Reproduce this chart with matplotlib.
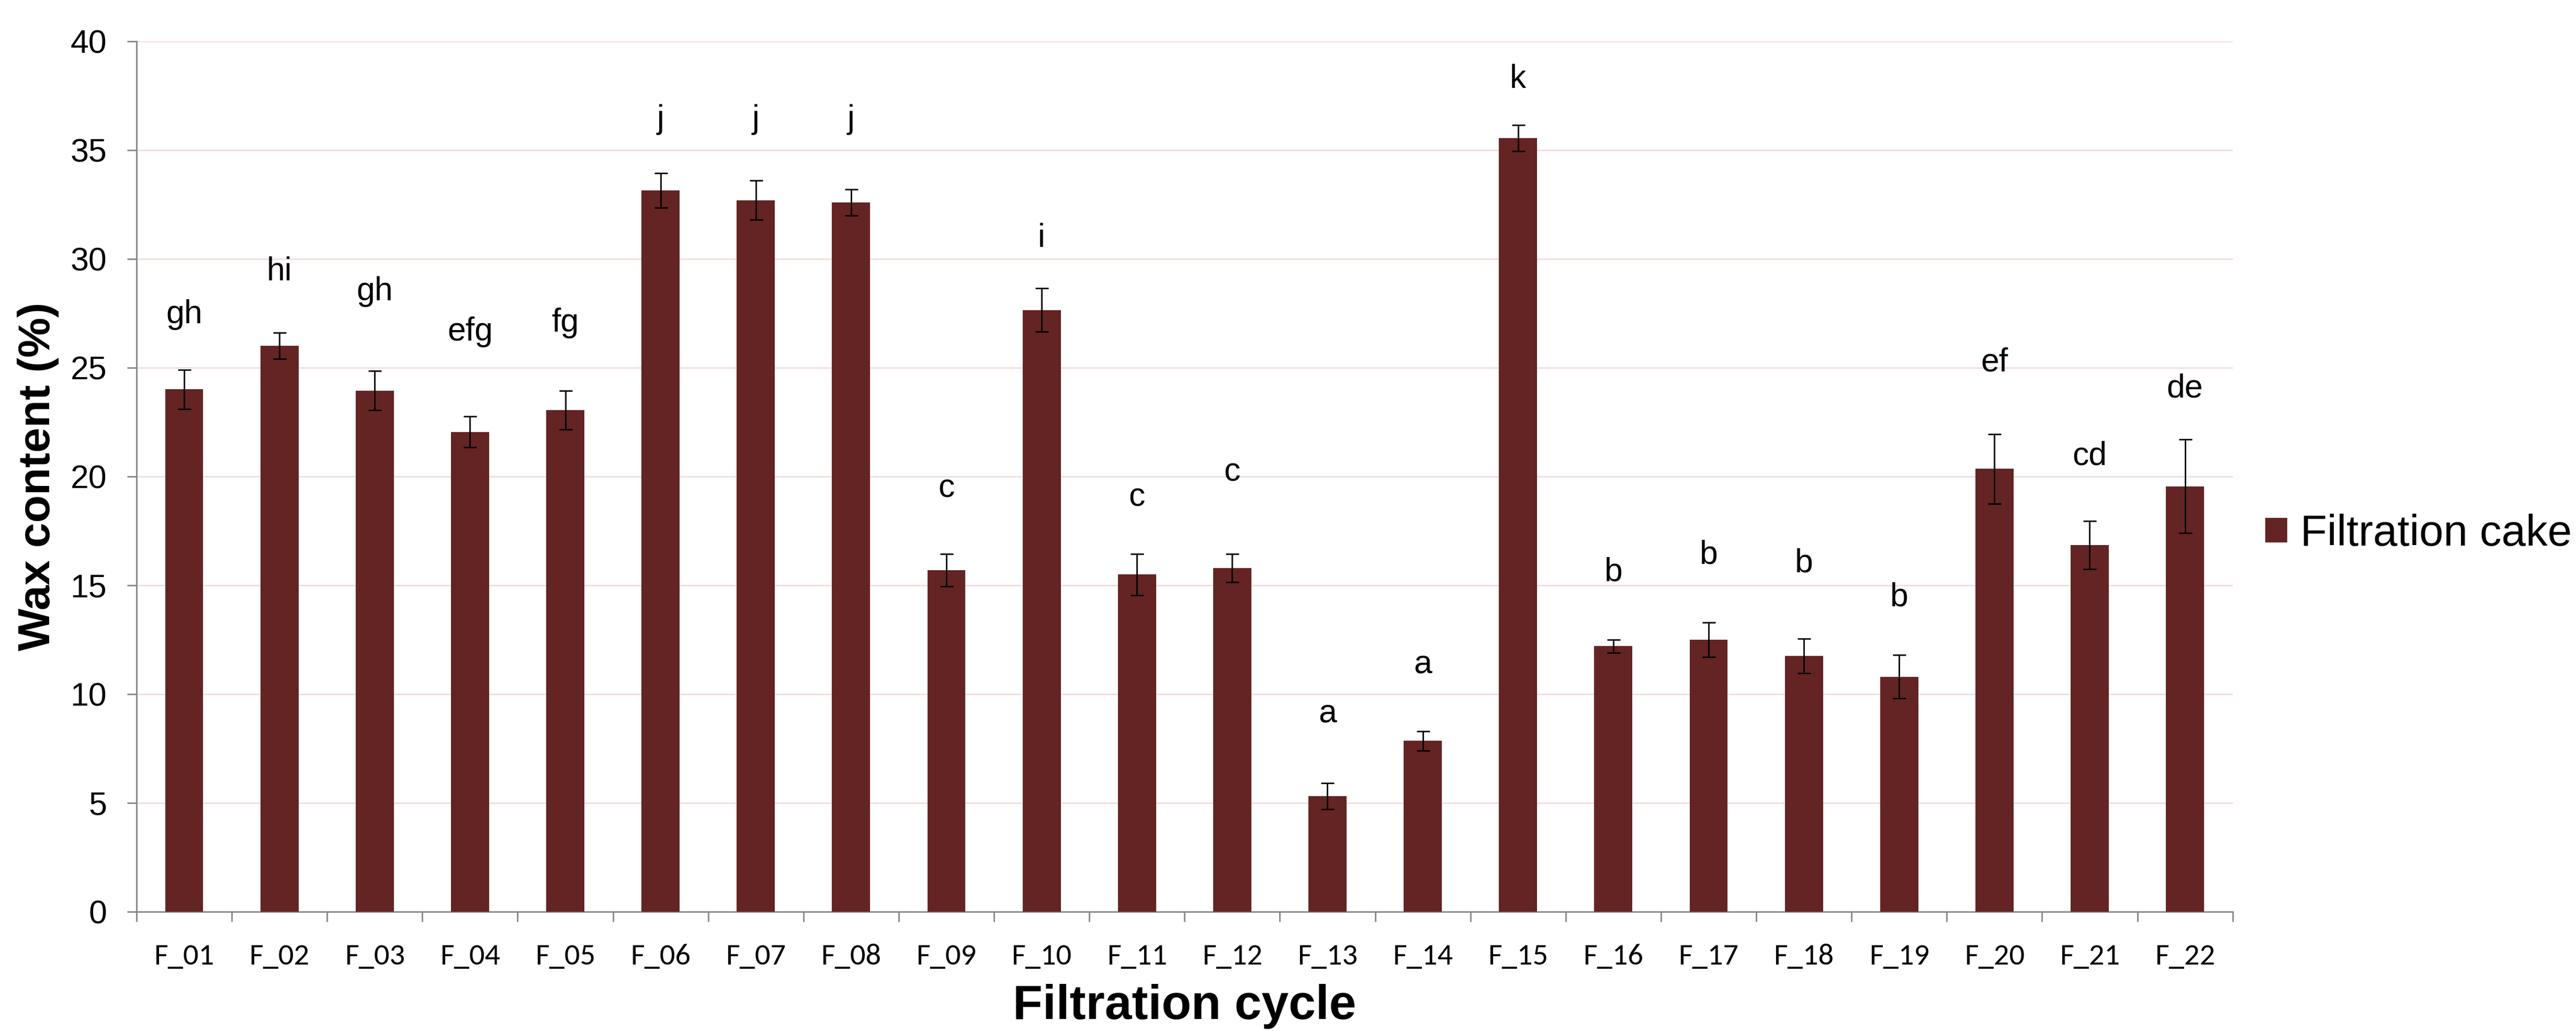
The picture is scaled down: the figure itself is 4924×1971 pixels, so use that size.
import numpy as np
import matplotlib
matplotlib.use("Agg")
import matplotlib.pyplot as plt
from matplotlib.ticker import FixedLocator

# data
cycles = ["F_01", "F_02", "F_03", "F_04", "F_05", "F_06", "F_07", "F_08", "F_09", "F_10", "F_11",
          "F_12", "F_13", "F_14", "F_15", "F_16", "F_17", "F_18", "F_19", "F_20", "F_21", "F_22"]
wax = [24.0, 26.0, 23.95, 22.05, 23.05, 33.15, 32.7, 32.6, 15.7, 27.65, 15.5,
       15.8, 5.3, 7.85, 35.55, 12.2, 12.5, 11.75, 10.8, 20.35, 16.85, 19.55]
wax_err = [0.9, 0.6, 0.9, 0.7, 0.9, 0.8, 0.9, 0.6, 0.75, 1.0, 0.95,
           0.65, 0.6, 0.45, 0.6, 0.3, 0.8, 0.8, 1.0, 1.6, 1.1, 2.15]
letters = ["gh", "hi", "gh", "efg", "fg", "j", "j", "j", "c", "i", "c",
           "c", "a", "a", "k", "b", "b", "b", "b", "ef", "cd", "de"]
letter_y = [27.05, 29.0, 28.1, 26.25, 26.65, 36.0, 36.0, 36.0, 19.05, 30.55, 18.65,
            19.8, 8.7, 10.95, 37.85, 15.2, 16.0, 15.6, 14.05, 24.85, 20.55, 23.65]

bar_color = "#632423"
grid_color = "#F2DCDB"
axis_color = "#868686"
arial = ["Liberation Sans", "DejaVu Sans"]

fig = plt.figure(figsize=(49.24, 19.71), dpi=100)
ax = fig.add_axes([0.053, 0.1157, 0.8137, 0.8443])

x = np.arange(len(cycles))
ax.bar(x, wax, width=0.4, color=bar_color, zorder=3, label="Filtration cake")
ax.errorbar(x, wax, yerr=wax_err, fmt="none", ecolor="black", elinewidth=2.0,
            capsize=9, capthick=2.0, zorder=4)

for xi, lab, ly in zip(x, letters, letter_y):
    ax.text(xi, ly, lab, ha="center", va="baseline", fontsize=45, family=arial, zorder=5)

ax.set_xlim(-0.5, len(cycles) - 0.5)
ax.set_ylim(0, 40)
ax.set_yticks(np.arange(0, 41, 5))
ax.yaxis.grid(True, color=grid_color, linewidth=2.0, zorder=0)
ax.set_axisbelow(True)

# labels at bar centres, tick marks between categories
ax.set_xticks(x)
ax.set_xticklabels(cycles, family=["Carlito", "Lato", "DejaVu Sans"], fontsize=42)
ax.xaxis.set_minor_locator(FixedLocator(np.arange(-0.5, len(cycles), 1.0)))
ax.tick_params(axis="x", which="major", length=0, pad=44)
ax.tick_params(axis="x", which="minor", length=14, width=2, color=axis_color)
ax.tick_params(axis="y", length=13, width=2, color=axis_color, pad=28, labelsize=45)
for t in ax.get_yticklabels():
    t.set_family(arial)

for side in ["top", "right"]:
    ax.spines[side].set_visible(False)
for side in ["left", "bottom"]:
    ax.spines[side].set_color(axis_color)
    ax.spines[side].set_linewidth(2.0)

ax.set_xlabel("Filtration cycle", fontsize=67, fontweight="bold", family=arial)
ax.xaxis.set_label_coords(0.5, -0.109)
ax.xaxis.label.set_verticalalignment("center")
ax.set_ylabel("Wax content (%)", fontsize=62, fontweight="bold", family=arial)
ax.yaxis.set_label_coords(-0.047, 0.5)
ax.yaxis.label.set_verticalalignment("center")

fig.legend(loc="center left", bbox_to_anchor=(4330 / 4924, 0.482), frameon=False,
           prop={"family": arial, "size": 60}, handlelength=0.5, handleheight=0.5,
           handletextpad=0.3, borderpad=0, borderaxespad=0)

fig.savefig("out.png", dpi=100)
